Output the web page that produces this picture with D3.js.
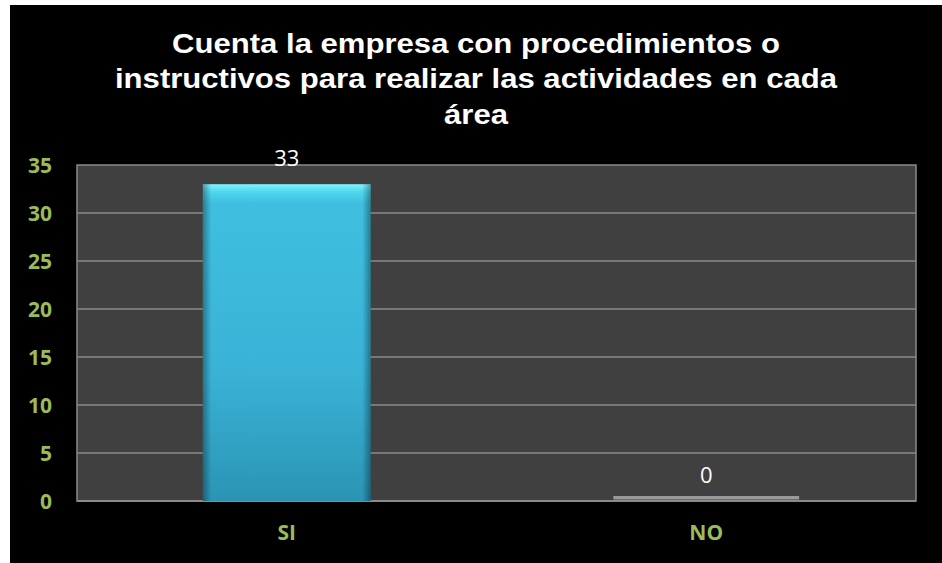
<!DOCTYPE html>
<html><head><meta charset="utf-8">
<script src="https://cdn.jsdelivr.net/npm/d3@7"></script>
<style>html,body{margin:0;padding:0;background:#fff;}</style>
</head><body>
<script>
const categories = ["SI", "NO"];
const values = [33, 0];
const yTicks = [0, 5, 10, 15, 20, 25, 30, 35];
const titleLines = ["Cuenta la empresa con procedimientos o", "instructivos para realizar las actividades en cada", "área"];

const W = 942, H = 563;
const svg = d3.select("body").append("svg").attr("width", W).attr("height", H);
svg.append("rect").attr("x", 10).attr("y", 5).attr("width", W - 10).attr("height", H - 5).attr("fill", "#000");

const plot = {l: 77, r: 916, t: 165, b: 501};
const x = d3.scaleBand().domain(categories).range([plot.l, plot.r]).paddingInner(0).paddingOuter(0);
const y = d3.scaleLinear().domain([0, 35]).range([plot.b, plot.t]);

const defs = svg.append("defs");
const g1 = defs.append("linearGradient").attr("id", "barg").attr("x1", 0).attr("y1", 0).attr("x2", 0).attr("y2", 1);
g1.append("stop").attr("offset", "0").attr("stop-color", "#7ff4ff");
g1.append("stop").attr("offset", "0.025").attr("stop-color", "#4fd6ee");
g1.append("stop").attr("offset", "0.06").attr("stop-color", "#3fbfdf");
g1.append("stop").attr("offset", "0.6").attr("stop-color", "#39b2d6");
g1.append("stop").attr("offset", "1").attr("stop-color", "#2b94b4");
const g2 = defs.append("linearGradient").attr("id", "barh").attr("x1", 0).attr("y1", 0).attr("x2", 1).attr("y2", 0);
g2.append("stop").attr("offset", "0").attr("stop-color", "#000").attr("stop-opacity", 0.35);
g2.append("stop").attr("offset", "0.05").attr("stop-color", "#000").attr("stop-opacity", 0);
g2.append("stop").attr("offset", "0.95").attr("stop-color", "#000").attr("stop-opacity", 0);
g2.append("stop").attr("offset", "1").attr("stop-color", "#000").attr("stop-opacity", 0.35);

svg.append("rect").attr("x", plot.l).attr("y", plot.t).attr("width", plot.r - plot.l).attr("height", plot.b - plot.t)
  .attr("fill", "#404040").attr("stroke", "#8a8a8a").attr("stroke-width", 1.5);

svg.append("g").selectAll("line").data(yTicks.filter(d => d > 0 && d < 35)).join("line")
  .attr("x1", plot.l).attr("x2", plot.r).attr("y1", d => y(d)).attr("y2", d => y(d))
  .attr("stroke", "#8a8a8a").attr("stroke-width", 1.5);
svg.append("line").attr("x1", plot.l).attr("x2", plot.r).attr("y1", y(0)).attr("y2", y(0))
  .attr("stroke", "#8a8a8a").attr("stroke-width", 2);

// y axis labels
const yAxis = d3.axisLeft(y).tickValues(yTicks).tickSize(0).tickPadding(0);
const ya = svg.append("g").attr("transform", `translate(${52},0)`).call(yAxis);
ya.select(".domain").remove();
ya.selectAll("text").attr("fill", "#9bbb59").attr("font-family", "'Open Sans', sans-serif")
  .attr("font-weight", "bold").attr("font-size", 21).attr("dy", "0.35em");

// x axis labels
const xAxis = d3.axisBottom(x).tickSize(0).tickPadding(0);
const xa = svg.append("g").attr("transform", `translate(0,${533})`).call(xAxis);
xa.select(".domain").remove();
xa.selectAll("text").attr("fill", "#9bbb59").attr("font-family", "'Open Sans', sans-serif")
  .attr("font-weight", "bold").attr("font-size", 21).attr("dy", "0.35em");

const bw = x.bandwidth() * 0.40;
const bars = svg.append("g").selectAll("g").data(categories.map((c, i) => ({c, v: values[i]}))).join("g");
bars.filter(d => d.v > 0).append("rect")
  .attr("x", d => x(d.c) + x.bandwidth() / 2 - bw / 2).attr("width", bw)
  .attr("y", d => y(d.v)).attr("height", d => y(0) - y(d.v)).attr("fill", "url(#barg)");
bars.filter(d => d.v > 0).append("rect")
  .attr("x", d => x(d.c) + x.bandwidth() / 2 - bw / 2).attr("width", bw)
  .attr("y", d => y(d.v)).attr("height", d => y(0) - y(d.v)).attr("fill", "url(#barh)");
bars.filter(d => d.v === 0).append("rect")
  .attr("x", d => x(d.c) + x.bandwidth() / 2 - bw / 2 - 9).attr("width", bw + 18)
  .attr("y", y(0) - 5).attr("height", 3.5).attr("fill", "#9a9a9a");

bars.append("text")
  .attr("x", d => x(d.c) + x.bandwidth() / 2)
  .attr("y", d => d.v > 0 ? y(d.v) - 18 : y(d.v) - 18)
  .attr("text-anchor", "middle").attr("fill", "#fff")
  .attr("font-family", "'Open Sans', sans-serif").attr("font-size", 22)
  .text(d => d.v);

svg.append("g").attr("transform", "translate(476,0) scale(1.11,1)")
  .selectAll("text").data(titleLines).join("text")
  .attr("x", 0).attr("y", (d, i) => 53 + i * 35.5)
  .attr("text-anchor", "middle").attr("fill", "#fff")
  .attr("font-family", "'Liberation Sans', Arial, sans-serif").attr("font-weight", "bold").attr("font-size", 28)
  .text(d => d);
</script>
</body></html>
